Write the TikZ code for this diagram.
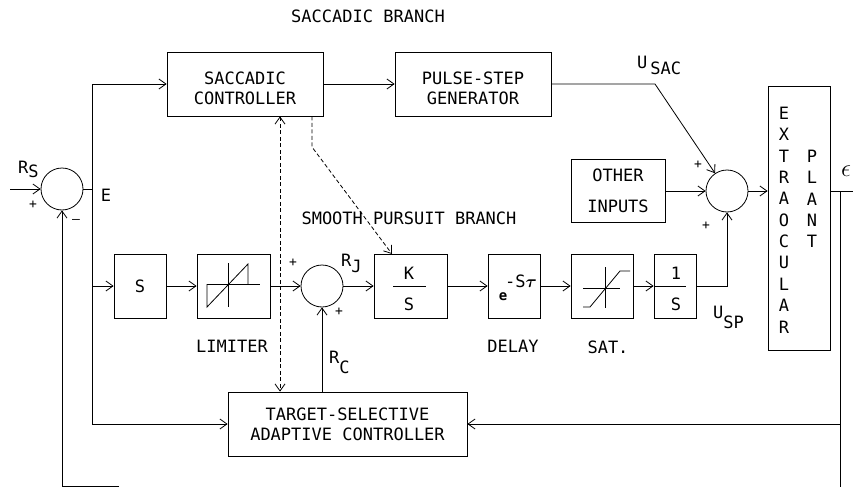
\documentclass[tikz,border=0pt]{standalone}
\usepackage{fontspec}
\setmainfont{DejaVu Sans Mono}
\usepackage{bm}
\usepackage{tikz}
\usetikzlibrary{arrows.meta,positioning}

\newcommand{\plotfont}{\fontsize{17}{20}\selectfont}
\newcommand{\lowsub}[2][6pt]{\raisebox{-#1}{#2}}

\begin{document}
\begin{tikzpicture}[
  x=1pt, y=-1pt,
  font=\plotfont,
  pblock/.style={rectangle, draw, line width=0.8pt,
    inner sep=0pt, align=center},
  psum/.style={circle, draw, line width=0.8pt,
    minimum size=42pt, inner sep=0pt},
  parr/.style={-{Straight Barb[length=7pt,width=10pt]},
    line width=0.8pt},
  pdarr/.style={{Straight Barb[length=7pt,width=10pt]}-{Straight Barb[length=7pt,width=10pt]},
    line width=0.8pt},
  pdash/.style={dash pattern=on 4pt off 2.5pt},
  pline/.style={line width=0.8pt},
  psign/.style={font=\fontsize{13}{13}\selectfont, inner sep=0pt},
  ptxt/.style={inner sep=0pt},
  pcol/.style={inner sep=0pt, align=center,
    font=\fontsize{17}{21.4}\selectfont},
]

  \useasboundingbox (0,0) rectangle (854,487);

  %% ── Saccadic branch ─────────────────────────────────────────
  \node[pblock, minimum width=156pt, minimum height=64pt] (sc) at (245,84)
    {\rule{0pt}{22pt}SACCADIC\\CONTROLLER};
  \node[pblock, minimum width=156pt, minimum height=64pt] (psg) at (473,84)
    {\rule{0pt}{22pt}PULSE-STEP\\GENERATOR};
  \node[ptxt] (lsac) at (368,16) {SACCADIC BRANCH};

  %% ── Summing junctions ───────────────────────────────────────
  \node[psum] (sum1) at (62,189) {};
  \node[psum] (sum3) at (322,286) {};
  \node[psum] (sum2) at (727,191) {};

  %% ── Smooth pursuit branch ───────────────────────────────────
  \node[pblock, minimum width=52pt, minimum height=64pt] (sbox) at (140,286) {S};
  \node[pblock, minimum width=73pt, minimum height=64pt] (lim) at (233.5,286) {};
  \node[pblock, minimum width=73pt, minimum height=64pt] (ks) at (410.5,286) {};
  \node[pblock, minimum width=52pt, minimum height=64pt] (del) at (514,286) {};
  \node[pblock, minimum width=62pt, minimum height=64pt] (sat) at (602,286) {};
  \node[pblock, minimum width=42pt, minimum height=64pt] (ints) at (675,286) {};
  \node[ptxt] (lsmp) at (409,218) {SMOOTH PURSUIT BRANCH};

  % block contents
  \draw[pline] (207,284) -- (260,284);
  \draw[pline] (228,263) -- (228,307);
  \draw[pline] (207,284) -- (207,307) -- (248,264) -- (248,284);
  \node[ptxt] (kn) at (409,273) {K};
  \node[ptxt] (kd) at (409,304) {S};
  \draw[pline] (393,286) -- (426,286);
  \node[ptxt, font=\fontsize{14}{14}\selectfont\bfseries] (de) at (503,297) {e};
  \node[ptxt] (dx) at (521,281) {-S$\bm{\tau}$};
  \draw[pline] (583,288) -- (620,288);
  \draw[pline] (605,267) -- (605,308);
  \draw[pline] (583,307) -- (590,307) -- (620,271) -- (630,271);
  \node[ptxt] (in) at (676,273) {1};
  \node[ptxt] (id) at (676,304) {S};
  \draw[pline] (654,286) -- (686,286);

  \node[ptxt] (llim) at (232,346) {LIMITER};
  \node[ptxt] (ldel) at (513,346) {DELAY};
  \node[ptxt] (lsat) at (608,347) {SAT.};

  %% ── Other inputs, plant, adaptive controller ────────────────
  \node[pblock, minimum width=94pt, minimum height=63pt] (oth) at (618,191)
    {OTHER\\[11.5pt]INPUTS};
  \node[pblock, minimum width=62pt, minimum height=264pt] (plant) at (799,218) {};
  \node[pcol] (ptx1) at (784,220) {E\\X\\T\\R\\A\\O\\C\\U\\L\\A\\R};
  \node[pcol] (ptx2) at (812,199) {P\\L\\A\\N\\T};
  \node[pblock, minimum width=239pt, minimum height=64pt] (tsac) at (347.5,424)
    {TARGET-SELECTIVE\\ADAPTIVE CONTROLLER};

  %% ── Signal labels ───────────────────────────────────────────
  \node[ptxt, anchor=base west] (lrs) at (18,173) {R\lowsub[4pt]{S}};
  \node[ptxt] (le) at (106,195) {E};
  \node[ptxt, anchor=base west] (lrj) at (341,266) {R\lowsub[6pt]{J}};
  \node[ptxt, anchor=base west] (lrc) at (329,363) {R\lowsub[10pt]{C}};
  \node[ptxt, anchor=base west] (lusac) at (637,68) {U\hspace{3pt}\lowsub[6pt]{SAC}};
  \node[ptxt, anchor=base west] (lusp) at (713,318) {U\lowsub[10pt]{SP}};
  \node[ptxt, font=\fontsize{30}{30}\selectfont] (lth) at (846,171) {$\epsilon$};

  \node[psign] (s1a) at (33,205) {+};
  \node[psign] (s1b) at (76,221) {--};
  \node[psign] (s3a) at (293,263) {+};
  \node[psign] (s3b) at (339,312) {+};
  \node[psign] (s2a) at (698,165) {+};
  \node[psign] (s2b) at (706,226) {+};

  %% ── Arrows ──────────────────────────────────────────────────
  \coordinate (rin) at (10,189);
  \coordinate (ej) at (92,189);
  \draw[parr] (rin) -- (sum1.west);
  \draw[pline] (sum1.east) -- (ej);
  \draw[parr] (ej) |- (sc.west);
  \draw[parr] (ej) |- (tsac.west);
  \draw[parr] (ej |- sbox.west) -- (sbox.west);

  \foreach \f/\t in {sbox/lim, lim/sum3, sum3/ks, ks/del, del/sat, sat/ints}
    \draw[parr] (\f.east) -- (\t.west);

  \draw[parr] (sc.east) -- (psg.west);
  \coordinate (usac) at (655,84);
  \draw[parr] (psg.east) -- (usac) -- (sum2);
  \draw[parr] (oth.east) -- (sum2.west);
  \draw[parr] (ints.east) -| (sum2.south);
  \draw[parr] (sum2.east) -- (sum2.east -| plant.west);
  \draw[parr] (tsac.north -| sum3) -- (sum3.south);

  % feedback paths
  \coordinate (yout) at (853,191);
  \coordinate (fbr) at (840,487);
  \coordinate (fbl) at (119,486);
  \draw[pline] (sum2.east -| plant.east) -- (yout);
  \draw[pline] (fbr |- yout) -- (fbr);
  \draw[parr] (fbr |- tsac.east) -- (tsac.east);
  \draw[parr] (fbl) -| (sum1.south);

  % dashed links
  \coordinate (dv) at (280,0);
  \coordinate (dk) at (312,147);
  \coordinate (kin) at (392,254);
  \draw[pdarr, pdash] (sc.south -| dv) -- (tsac.north -| dv);
  \draw[parr, pdash] (sc.south -| dk) -- (dk) -- (kin);

\end{tikzpicture}
\end{document}
